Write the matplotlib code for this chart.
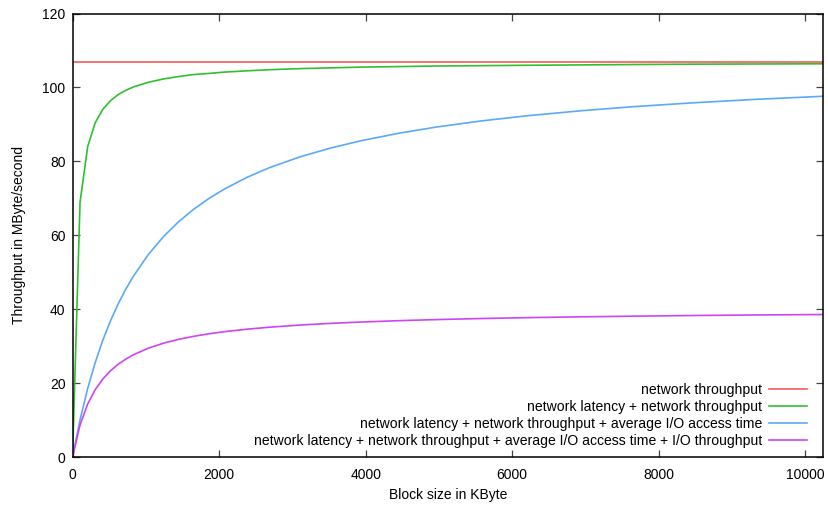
import matplotlib
matplotlib.use("Agg")
import matplotlib.pyplot as plt

plt.rcParams['font.family'] = ['Liberation Sans', 'DejaVu Sans']

# Block sizes (KByte) at which the throughput was evaluated
block_kb = [0, 103, 207, 310, 414, 517, 621, 724, 827, 1034, 1241, 1448, 1655,
            1862, 2069, 2379, 2689, 3103, 3517, 3930, 4448, 4965, 5586, 6206,
            6930, 7654, 8482, 9309, 10240]

# Throughput (MByte/second) for each cost model
net_only = [107.0] * len(block_kb)
net_latency = [0, 69.0, 84.0, 90.45, 94.1, 96.4, 98.05, 99.2, 100.1, 101.4,
               102.3, 102.95, 103.5, 103.8, 104.15, 104.5, 104.8, 105.1, 105.3,
               105.5, 105.65, 105.8, 105.9, 106.0, 106.1, 106.2, 106.3, 106.35,
               106.4]
net_io_access = [0, 10.14, 18.59, 25.63, 31.68, 36.84, 41.39, 45.35, 48.85,
                 54.81, 59.67, 63.70, 67.09, 70.00, 72.50, 75.68, 78.33, 81.23,
                 83.60, 85.57, 87.61, 89.30, 90.97, 92.35, 93.69, 94.81, 95.87,
                 96.77, 97.62]
net_io_full = [0, 8.75, 14.40, 18.29, 21.18, 23.37, 25.12, 26.52, 27.68, 29.50,
               30.85, 31.89, 32.72, 33.40, 33.96, 34.64, 35.18, 35.76, 36.21,
               36.57, 36.94, 37.24, 37.53, 37.76, 37.98, 38.16, 38.34, 38.48,
               38.61]

labels = [
    "network throughput",
    "network latency + network throughput",
    "network latency + network throughput + average I/O access time",
    "network latency + network throughput + average I/O access time + I/O throughput",
]
colors = ["#f25a5a", "#2fc02f", "#5aaaf8", "#cc44f5"]

x_ticks = [0, 2000, 4000, 6000, 8000, 10000]
y_ticks = [0, 20, 40, 60, 80, 100, 120]

fig = plt.figure(figsize=(8.29, 5.05), dpi=100)
ax = fig.add_axes([72.5 / 829, 1 - 457.3 / 505, (823 - 72.5) / 829, (457.3 - 13.5) / 505])

for ys, lab, col in zip([net_only, net_latency, net_io_access, net_io_full], labels, colors):
    ax.plot(block_kb, ys, color=col, lw=1.2, label=lab)

ax.set_xlim(0, 10240)
ax.set_ylim(0, 120)
ax.set_xticks(x_ticks)
ax.set_yticks(y_ticks)
ax.tick_params(direction='in', length=5, width=0.9, color='#444444',
               top=True, right=True, labelsize=10)
ax.tick_params(axis='x', pad=8)
ax.tick_params(axis='y', pad=5)
for sp in ax.spines.values():
    sp.set_linewidth(1.1)
    sp.set_color('black')

ax.set_xlabel("Block size in KByte", fontsize=10, labelpad=4)
ax.set_ylabel("Throughput in MByte/second", fontsize=10, labelpad=12)

ax.legend(loc='lower right', bbox_to_anchor=(0.9863, 0.0075), borderaxespad=0,
          frameon=False, markerfirst=False, fontsize=10.1,
          handlelength=2.7, handletextpad=0.5, labelspacing=0.23)

fig.savefig("out.png", dpi=100)
